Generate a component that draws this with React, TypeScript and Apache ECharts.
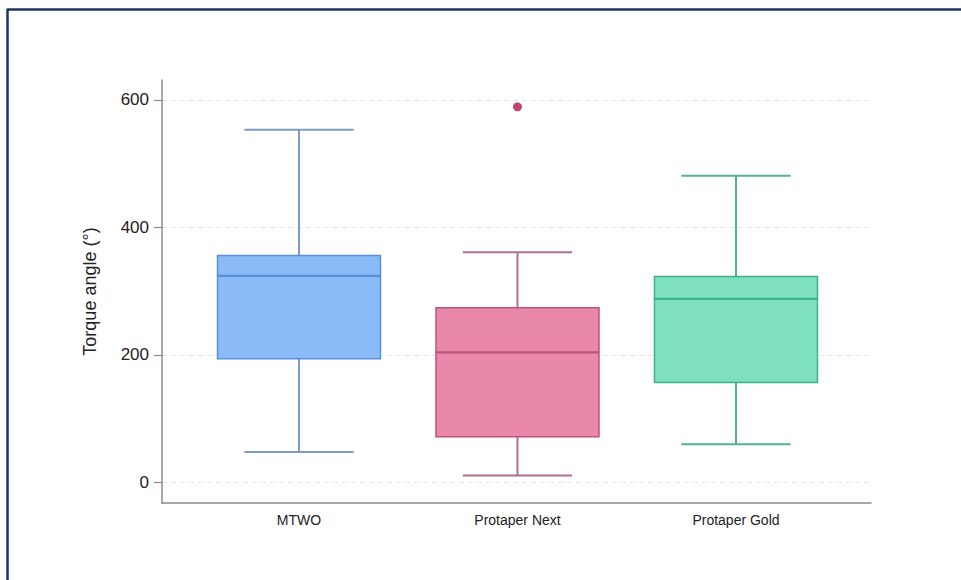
import React, { useEffect, useRef } from "react";
import * as echarts from "echarts";

const categories = ["MTWO", "Protaper Next", "Protaper Gold"];
// [min, Q1, median, Q3, max]
const mtwo = [48, 194, 324, 356, 553];
const protaperNext = [11, 72, 204, 274, 361];
const protaperGold = [60, 157, 288, 323, 481];
const outliers = [[1, 589]];
const yTicks = [0, 200, 400, 600];

const fills = ["#88bbf7", "#ea88a9", "#7ee0bf"];
const borders = ["#5a90d6", "#bd527c", "#3cb18b"];
const whiskers = ["#7b9cc0", "#b06f90", "#4eb394"];

const BOX_W = 0.746;
const CAP_W = 0.5;

export default function App() {
  const ref = useRef<HTMLDivElement>(null);
  useEffect(() => {
    if (!ref.current) return;
    const chart = echarts.init(ref.current, null, { renderer: "svg" });
    const boxes = [mtwo, protaperNext, protaperGold].map((d, i) => [i, ...d]);
    const font = "Liberation Sans";
    chart.setOption({
      animation: false,
      backgroundColor: "#ffffff",
      graphic: [
        {
          type: "line",
          shape: { x1: 7, y1: 9.5, x2: 961, y2: 9.5 },
          style: { stroke: "#1e3563", lineWidth: 2.5 },
        },
        {
          type: "line",
          shape: { x1: 7.5, y1: 9, x2: 7.5, y2: 580 },
          style: { stroke: "#1e3563", lineWidth: 2.5 },
        },
      ],
      grid: { left: 162, right: 90, top: 80, bottom: 77, containLabel: false },
      xAxis: {
        type: "value",
        min: -0.627,
        max: 2.618,
        axisLine: { show: true, onZero: false, lineStyle: { color: "#8a8a8a", width: 1.5 } },
        axisTick: { show: false },
        splitLine: { show: false },
        axisLabel: {
          customValues: [0, 1, 2],
          formatter: (v: number) => categories[Math.round(v)] ?? "",
          margin: 10,
          color: "#222",
          fontFamily: font,
          fontSize: 14,
        },
      },
      yAxis: {
        type: "value",
        min: -32,
        max: 631,
        name: "Torque angle (°)",
        nameLocation: "middle",
        nameGap: 63,
        nameTextStyle: { color: "#222", fontFamily: font, fontSize: 18 },
        axisLine: { show: true, onZero: false, lineStyle: { color: "#8a8a8a", width: 1.5 } },
        axisTick: {
          show: true,
          customValues: yTicks,
          length: 8,
          lineStyle: { color: "#8a8a8a", width: 1.2 },
        },
        axisLabel: {
          customValues: yTicks,
          margin: 13,
          color: "#222",
          fontFamily: font,
          fontSize: 17,
        },
        splitLine: {
          show: true,
          lineStyle: { color: "#e6e6e6", type: [5, 4], width: 1 },
        },
      },
      series: [
        {
          type: "custom",
          data: boxes,
          encode: { x: 0, y: [1, 2, 3, 4, 5] },
          renderItem: (params: any, api: any) => {
            const i = params.dataIndex;
            const x = api.value(0);
            const lo = api.coord([x, api.value(1)]);
            const q1 = api.coord([x, api.value(2)]);
            const md = api.coord([x, api.value(3)]);
            const q3 = api.coord([x, api.value(4)]);
            const hi = api.coord([x, api.value(5)]);
            const bw = api.size([BOX_W, 0])[0];
            const cw = api.size([CAP_W, 0])[0];
            const cx = lo[0];
            const wStyle = { stroke: whiskers[i], lineWidth: 2 };
            return {
              type: "group",
              children: [
                { type: "line", shape: { x1: cx, y1: hi[1], x2: cx, y2: q3[1] }, style: wStyle },
                { type: "line", shape: { x1: cx, y1: q1[1], x2: cx, y2: lo[1] }, style: wStyle },
                { type: "line", shape: { x1: cx - cw / 2, y1: hi[1], x2: cx + cw / 2, y2: hi[1] }, style: wStyle },
                { type: "line", shape: { x1: cx - cw / 2, y1: lo[1], x2: cx + cw / 2, y2: lo[1] }, style: wStyle },
                {
                  type: "rect",
                  shape: { x: cx - bw / 2, y: q3[1], width: bw, height: q1[1] - q3[1] },
                  style: { fill: fills[i], stroke: borders[i], lineWidth: 1.5 },
                },
                {
                  type: "line",
                  shape: { x1: cx - bw / 2, y1: md[1], x2: cx + bw / 2, y2: md[1] },
                  style: { stroke: borders[i], lineWidth: 2.2 },
                },
              ],
            };
          },
        },
        {
          type: "scatter",
          data: outliers,
          symbol: "circle",
          symbolSize: 9,
          itemStyle: { color: "#b0174b" },
        },
      ],
    });
    return () => chart.dispose();
  }, []);
  return (
    <div
      ref={ref}
      style={{ position: "fixed", left: 0, top: 0, width: 961, height: 580 }}
    />
  );
}
